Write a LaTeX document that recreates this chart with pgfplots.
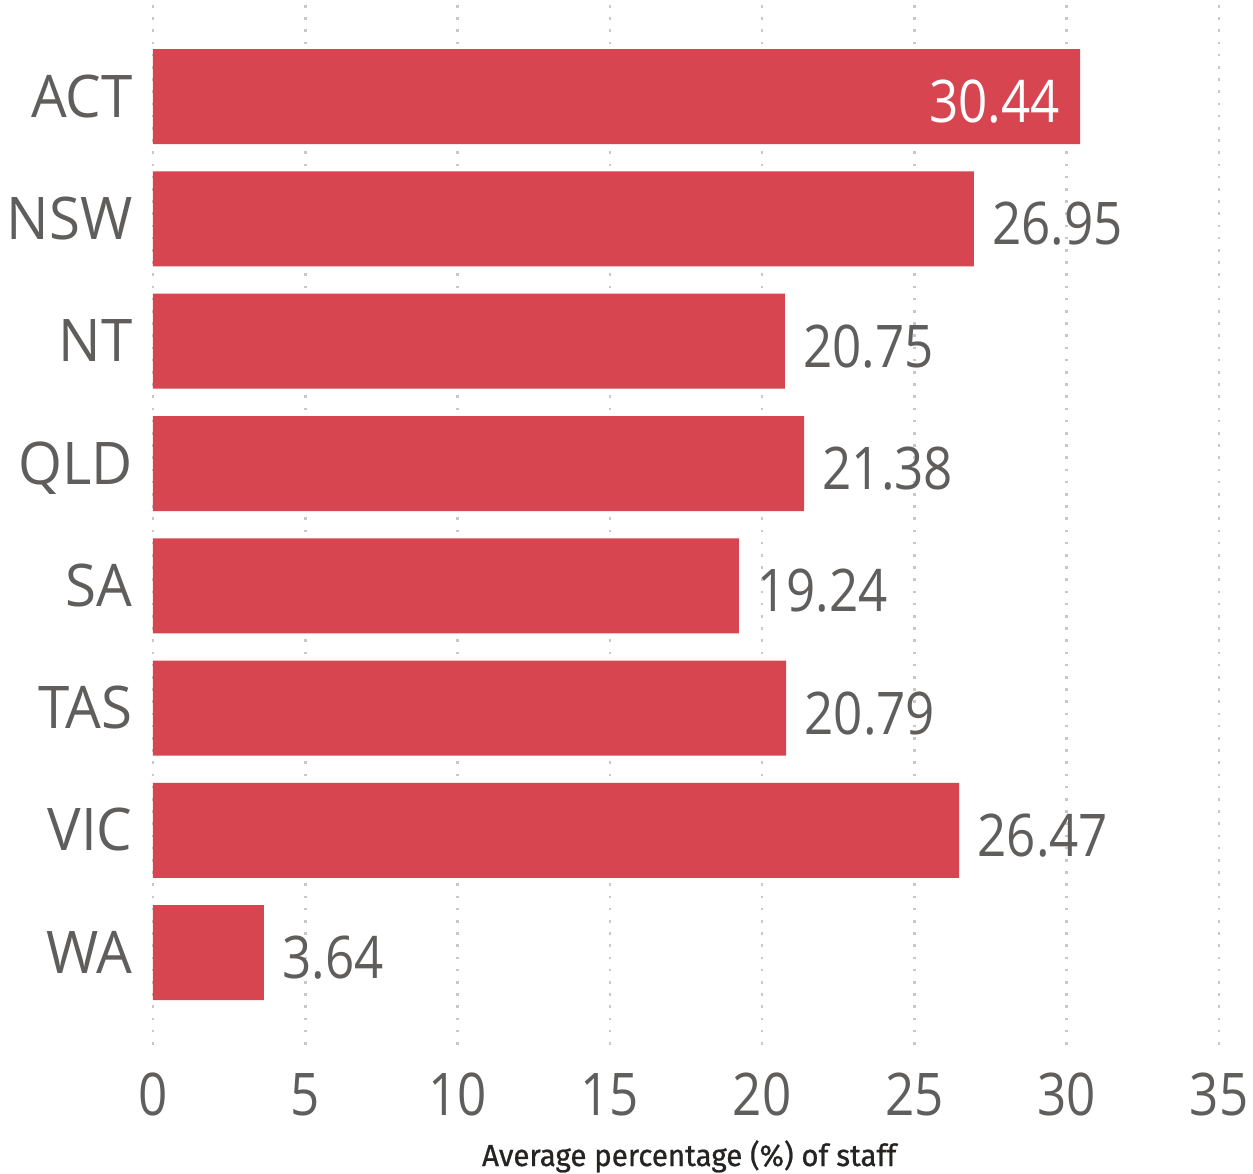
\documentclass[border=0pt]{standalone}
\usepackage{pgfplots}
\pgfplotsset{compat=1.18}
\usepackage{fontspec}
\setmainfont{Open Sans}[FakeStretch=0.87]
\newfontfamily\catfont{Open Sans}[FakeStretch=0.96]
\newfontfamily\labfont{Fira Sans}[FakeStretch=0.97,FakeBold=0.8]
\definecolor{barred}{HTML}{D64550}
\definecolor{txt}{HTML}{605E5C}
\definecolor{labc}{HTML}{252423}
\definecolor{gridc}{HTML}{C8C8C8}
\begin{document}
\begin{tikzpicture}
\useasboundingbox (-76.5pt,-61pt) rectangle (550pt,525.5pt);
\begin{axis}[
  scale only axis,
  width=533pt, height=523pt,
  xbar, bar shift=0pt, bar width=47.5pt,
  xmin=0, xmax=35,
  ymin=-0.75, ymax=7.805,
  y dir=reverse,
  axis line style={draw=none},
  major tick length=0pt,
  xtick={0,5,...,35},
  ytick={0,...,7},
  yticklabels={ACT,NSW,NT,QLD,SA,TAS,VIC,WA},
  xmajorgrids,
  grid style={gridc, line width=1.3pt, dash pattern=on 1.3pt off 4.8pt},
  /pgf/number format/assume math mode=true,
  xticklabel style={font=\fontsize{29.4}{30}\selectfont, text=txt, anchor=base, inner sep=0pt, yshift=-32pt},
  yticklabel style={font=\catfont\fontsize{29.4}{30}\selectfont, text=txt, anchor=base east, inner sep=0pt, xshift=-10pt, yshift=-10.25pt},
  xlabel={Average percentage (\%) of staff},
  xlabel style={font=\labfont\fontsize{15.2}{16}\selectfont, text=labc, anchor=base, inner sep=0pt, at={(axis description cs:0.503,0)}, yshift=-57.5pt},
  nodes near coords={\pgfmathprintnumber[fixed,precision=2,fixed zerofill,assume math mode=true]{\pgfplotspointmeta}},
  point meta=x,
]
\addplot[fill=barred, draw=none, nodes near coords=] coordinates {
(30.44,0) (26.95,1) (20.75,2) (21.38,3) (19.24,4) (20.79,5) (26.47,6) (3.64,7)};
\addplot[fill=none, draw=none,
  nodes near coords style={font=\fontsize{29.4}{30}\selectfont, text=txt, anchor=base west, inner sep=0pt, xshift=9pt, yshift=-13pt}]
  coordinates {(26.95,1) (20.75,2) (21.38,3) (19.24,4) (20.79,5) (26.47,6) (3.64,7)};
\addplot[fill=none, draw=none,
  nodes near coords style={font=\fontsize{29.4}{30}\selectfont, text=white, anchor=base east, inner sep=0pt, xshift=-10pt, yshift=-13pt}]
  coordinates {(30.44,0)};
\end{axis}
\end{tikzpicture}
\end{document}
